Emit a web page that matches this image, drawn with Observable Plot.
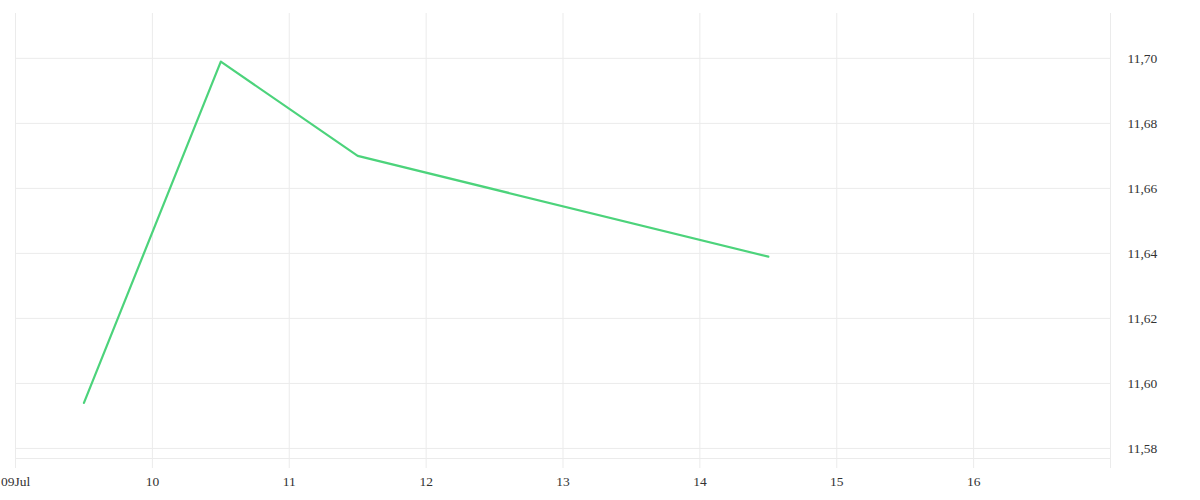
<!DOCTYPE html>
<html>
<head>
<meta charset="utf-8">
<script src="https://cdn.jsdelivr.net/npm/d3@7"></script>
<script src="https://cdn.jsdelivr.net/npm/@observablehq/plot@0.6"></script>
<style>
  html, body { margin: 0; padding: 0; background: #fff; }
  #chart svg { display: block; }
</style>
</head>
<body>
<div id="chart"></div>
<script>
const dates = ["2025-07-09T12:00Z", "2025-07-10T12:00Z", "2025-07-11T12:00Z", "2025-07-14T12:00Z"];
const values = [11.594, 11.699, 11.670, 11.639];
const xTicks = ["2025-07-09", "2025-07-10", "2025-07-11", "2025-07-12", "2025-07-13", "2025-07-14", "2025-07-15", "2025-07-16", "2025-07-17"];
const xTickLabels = ["09Jul", "10", "11", "12", "13", "14", "15", "16", ""];
const yTicks = [11.58, 11.60, 11.62, 11.64, 11.66, 11.68, 11.70];
const yDomain = [11.5769, 11.7138];

const data = dates.map((d, i) => ({date: new Date(d), value: values[i]}));
const xt = xTicks.map(d => new Date(d + "T00:00Z"));
const labelOf = new Map(xt.map((d, i) => [+d, xTickLabels[i]]));

const chart = Plot.plot({
  width: 1200,
  height: 500,
  marginLeft: 15,
  marginRight: 90,
  marginTop: 13,
  marginBottom: 42,
  style: {fontFamily: "'Liberation Serif', serif", fontSize: "13.5px", background: "#fff"},
  x: {type: "utc", domain: [xt[0], xt[xt.length - 1]]},
  y: {domain: yDomain},
  marks: [
    Plot.gridX(xt, {stroke: "#ebebeb", strokeOpacity: 1}),
    Plot.gridY(yTicks, {stroke: "#ebebeb", strokeOpacity: 1}),
    Plot.ruleY([yDomain[0]], {stroke: "#ebebeb"}),
    Plot.axisX(xt, {
      tickSize: 10, stroke: "#ebebeb", strokeOpacity: 1, fill: "#333", tickPadding: 8,
      tickFormat: d => labelOf.get(+d), fontSize: 13.5, label: null
    }),
    Plot.axisY(yTicks, {
      anchor: "right", tickSize: 0, tickPadding: 17, textAnchor: "start", fill: "#333",
      tickFormat: d => d3.format(".2f")(d).replace(".", ","), fontSize: 13.5, label: null
    }),
    Plot.line(data, {x: "date", y: "value", stroke: "#4cd37b", strokeWidth: 2.2})
  ]
});
document.getElementById("chart").appendChild(chart);
</script>
</body>
</html>
